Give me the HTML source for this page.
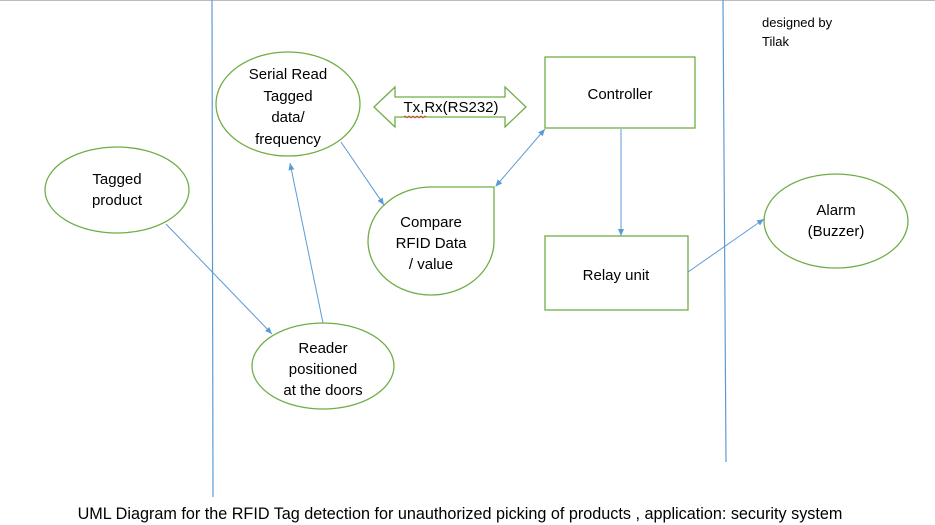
<!DOCTYPE html>
<html><head><style>
body{margin:0;background:#fff;}
svg{display:block;font-family:"Liberation Sans",sans-serif;}
</style></head><body>
<svg width="935" height="525" viewBox="0 0 935 525" xmlns="http://www.w3.org/2000/svg">
<defs>
<marker id="a" markerWidth="8" markerHeight="8" refX="7" refY="4" orient="auto" markerUnits="userSpaceOnUse"><path d="M0,1 L7,4 L0,7 z" fill="#5b9bd5"/></marker>
<marker id="b" markerWidth="8" markerHeight="8" refX="1" refY="4" orient="auto" markerUnits="userSpaceOnUse"><path d="M7,1 L0,4 L7,7 z" fill="#5b9bd5"/></marker>
</defs>
<line x1="0" y1="0.5" x2="935" y2="0.5" stroke="#bbb"/>
<line x1="212" y1="0" x2="213" y2="497" stroke="#5b9bd5" stroke-width="1.2"/>
<line x1="723" y1="0" x2="726" y2="462" stroke="#5b9bd5" stroke-width="1.2"/>
<g fill="#fff" stroke="#70ad47" stroke-width="1.3">
<ellipse cx="117" cy="190" rx="72" ry="43"/>
<ellipse cx="288" cy="104" rx="72" ry="52"/>
<ellipse cx="323" cy="366" rx="71" ry="43"/>
<ellipse cx="836" cy="221" rx="72" ry="47"/>
<path d="M494,187 L494,242 A63,54 0 1 1 431,187 Z"/>
<rect x="545" y="57" width="150" height="71"/>
<rect x="545" y="236" width="143" height="74"/>
<path d="M374,107 L395,87 L395,97 L505,97 L505,87 L526,107 L505,127 L505,117 L395,117 L395,127 Z"/>
</g>
<g stroke="#5b9bd5" stroke-width="1" fill="none">
<line x1="166" y1="224" x2="272" y2="334" marker-end="url(#a)"/>
<line x1="323" y1="323" x2="290" y2="163" marker-end="url(#a)"/>
<line x1="341" y1="142" x2="384" y2="205" marker-end="url(#a)"/>
<line x1="496" y1="186" x2="545" y2="129" marker-start="url(#b)" marker-end="url(#a)"/>
<line x1="621" y1="129" x2="621" y2="236" marker-end="url(#a)"/>
<line x1="688" y1="272" x2="764" y2="219" marker-end="url(#a)"/>
</g>
<g font-size="15" fill="#000" text-anchor="middle">
<text x="117" y="184">Tagged</text><text x="117" y="205">product</text>
<text x="288" y="79">Serial Read</text><text x="288" y="101">Tagged</text><text x="288" y="122">data/</text><text x="288" y="144">frequency</text>
<text x="323" y="353">Reader</text><text x="323" y="374">positioned</text><text x="323" y="395">at the doors</text>
<text x="431" y="227">Compare</text><text x="431" y="248">RFID Data</text><text x="431" y="269">/ value</text>
<text x="620" y="99">Controller</text>
<text x="616" y="280">Relay unit</text>
<text x="836" y="215">Alarm</text><text x="836" y="236">(Buzzer)</text>
<text x="451" y="112">Tx,Rx(RS232)</text>
<text x="460" y="519" font-size="16.2">UML Diagram for the RFID Tag detection for unauthorized picking of products , application: security system</text>
</g>
<path d="M404,117 q1,-2 2,0 t2,0 t2,0 t2,0 t2,0 t2,0 t2,0 t2,0 t2,0 t2,0 t2,0" stroke="#e03030" fill="none" stroke-width="0.8"/>
<g font-size="13" fill="#000">
<text x="762" y="27">designed by</text><text x="762" y="46">Tilak</text>
</g>
</svg>
</body></html>
